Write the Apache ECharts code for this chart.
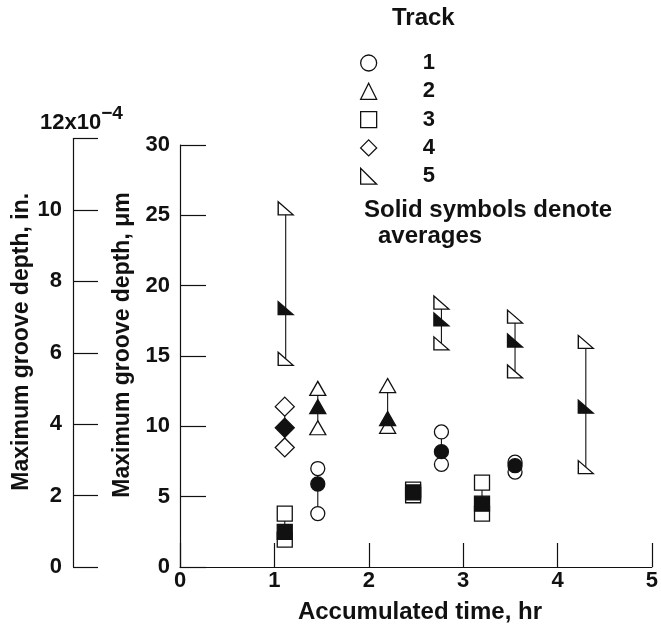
<!DOCTYPE html>
<html>
<head>
<meta charset="utf-8">
<script src="https://cdn.jsdelivr.net/npm/echarts@6/dist/echarts.min.js"></script>
<style>
html,body{margin:0;padding:0;background:#fff;}
#chart{width:661px;height:631px;}
</style>
</head>
<body>
<div id="chart"></div>
<script>
// ---- data ----
const trackNames = ['1', '2', '3', '4', '5'];
const xTicks = [0, 1, 2, 3, 4, 5];
const umTicks = [0, 5, 10, 15, 20, 25, 30];
const inTicks = [0, 2, 4, 6, 8, 10, 12];

const track1Time = [1.46, 2.77, 3.55];
const track1High = [7.0, 9.6, 7.45];
const track1Low  = [3.8, 7.3, 6.75];
const track1Avg  = [5.9, 8.2, 7.2];

const track2Time = [1.46, 2.2];
const track2High = [12.7, 12.9];
const track2Low  = [9.9, 10.0];
const track2Avg  = [11.4, 10.55];

const track3Time = [1.11, 2.47, 3.2];
const track3High = [3.8, 5.5, 6.0];
const track3Low  = [1.95, 5.1, 3.8];
const track3Avg  = [2.5, 5.3, 4.5];

const track4Time = [1.11];
const track4High = [11.4];
const track4Low  = [8.5];
const track4Avg  = [9.9];

const track5Time = [1.12, 2.77, 3.55, 4.3];
const track5High = [25.5, 18.8, 17.8, 16.0];
const track5Low  = [14.8, 15.9, 13.9, 7.1];
const track5Avg  = [18.4, 17.6, 16.1, 11.4];

// ---- build ----
const FONT = "'Liberation Sans', Arial, Helvetica, sans-serif";
const rightTri = 'path://M0,0 L0,10 L10,10 Z';
const tracks = [
  {name: '1', time: track1Time, high: track1High, low: track1Low, avg: track1Avg, symbol: 'circle', size: 14},
  {name: '2', time: track2Time, high: track2High, low: track2Low, avg: track2Avg, symbol: 'triangle', size: [16, 14]},
  {name: '3', time: track3Time, high: track3High, low: track3Low, avg: track3Avg, symbol: 'rect', size: 15},
  {name: '4', time: track4Time, high: track4High, low: track4Low, avg: track4Avg, symbol: 'diamond', size: 19},
  {name: '5', time: track5Time, high: track5High, low: track5Low, avg: track5Avg, symbol: rightTri, size: [15, 13]}
];

const series = [];
tracks.forEach(t => {
  series.push({
    type: 'custom',
    name: t.name + ' range',
    xAxisIndex: 0, yAxisIndex: 0,
    z: 1,
    silent: true,
    data: t.time.map((x, i) => [x, t.high[i], t.low[i]]),
    renderItem: function (params, api) {
      const p1 = api.coord([api.value(0), api.value(1)]);
      const p2 = api.coord([api.value(0), api.value(2)]);
      return {type: 'line', shape: {x1: p1[0], y1: p1[1], x2: p2[0], y2: p2[1]},
              style: {stroke: '#111', lineWidth: 1.1}};
    }
  });
});
tracks.forEach(t => {
  series.push({
    type: 'scatter',
    name: t.name,
    xAxisIndex: 0, yAxisIndex: 0,
    z: 3,
    symbol: t.symbol,
    symbolSize: t.size,
    itemStyle: {color: '#fff', borderColor: '#111', borderWidth: 1.3, opacity: 1},
    data: t.time.flatMap((x, i) => [[x, t.high[i]], [x, t.low[i]]])
  });
});
tracks.forEach(t => {
  series.push({
    type: 'scatter',
    name: t.name + ' avg',
    xAxisIndex: 0, yAxisIndex: 0,
    z: 4,
    symbol: t.symbol,
    symbolSize: t.size,
    itemStyle: {color: '#111', borderColor: '#111', borderWidth: 1.3, opacity: 1},
    data: t.time.map((x, i) => [x, t.avg[i]])
  });
});

const axisText = {color: '#111', fontFamily: FONT, fontWeight: 'bold', fontSize: 22};
const titleText = {color: '#111', fontFamily: FONT, fontWeight: 'bold', fontSize: 23};
const lineStyle = {color: '#111', width: 1.2};

const chart = echarts.init(document.getElementById('chart'), null, {renderer: 'canvas'});
chart.setOption({
  backgroundColor: '#fff',
  animation: false,
  textStyle: {fontFamily: FONT},
  grid: [
    {left: 180, right: 9, top: 145, bottom: 64},
    {left: 73, width: 2, top: 138.6, bottom: 64}
  ],
  xAxis: [
    {
      type: 'value', gridIndex: 0, min: xTicks[0], max: xTicks[xTicks.length - 1], interval: 1,
      name: 'Accumulated time, hr', nameLocation: 'middle', nameGap: 33,
      nameTextStyle: Object.assign({}, titleText, {fontSize: 24, padding: [0, 0, 0, 8]}),
      axisLine: {show: true, lineStyle: lineStyle},
      axisTick: {show: true, inside: true, length: 24, lineStyle: lineStyle},
      axisLabel: Object.assign({margin: 3}, axisText),
      splitLine: {show: false}
    },
    {type: 'value', gridIndex: 1, min: 0, max: 1, show: false}
  ],
  yAxis: [
    {
      type: 'value', gridIndex: 0, min: umTicks[0], max: umTicks[umTicks.length - 1], interval: 5,
      name: 'Maximum groove depth, \u03bcm', nameLocation: 'middle', nameGap: 46, nameRotate: 90,
      nameTextStyle: Object.assign({padding: [0, 0, 0, 22]}, titleText),
      axisLine: {show: true, lineStyle: lineStyle},
      axisTick: {show: true, inside: true, length: 26, lineStyle: lineStyle},
      axisLabel: Object.assign({margin: 10}, axisText),
      splitLine: {show: false}
    },
    {
      type: 'value', gridIndex: 1, min: inTicks[0], max: inTicks[inTicks.length - 1], interval: 2,
      name: 'Maximum groove depth, in.', nameLocation: 'middle', nameGap: 36, nameRotate: 90,
      nameTextStyle: Object.assign({padding: [0, 0, 0, 22]}, titleText),
      axisLine: {show: true, lineStyle: lineStyle},
      axisTick: {show: true, inside: true, length: 25, lineStyle: lineStyle},
      axisLabel: Object.assign({margin: 11, formatter: v => (v === 12 ? '' : String(v))}, axisText),
      splitLine: {show: false}
    }
  ],
  legend: {
    orient: 'vertical',
    left: 355, top: 47,
    itemWidth: 16, itemHeight: 16, itemGap: 6.3,
    selectedMode: false,
    data: trackNames,
    itemStyle: {color: '#fff', borderColor: '#111', borderWidth: 1.3},
    textStyle: {color: '#111', fontFamily: FONT, fontWeight: 'bold', fontSize: 22, lineHeight: 22,
                padding: [0, 0, 0, 41]}
  },
  graphic: [
    {type: 'text', left: 392, top: 6,
     style: {text: 'Track', fill: '#111', font: "bold 24px " + FONT}},
    {type: 'text', left: 364, top: 198,
     style: {text: 'Solid symbols denote', fill: '#111', font: "bold 24px " + FONT}},
    {type: 'text', left: 378, top: 224,
     style: {text: 'averages', fill: '#111', font: "bold 24px " + FONT}},
    {type: 'text', left: 40, top: 104,
     style: {
       text: '{b|12x10}{s|\u22124}', fill: '#111',
       rich: {
         b: {fill: '#111', font: "bold 22px " + FONT, padding: [8, 0, 0, 0]},
         s: {fill: '#111', font: "bold 19px " + FONT, verticalAlign: 'top'}
       }
     }}
  ],
  series: series
});
</script>
</body>
</html>
